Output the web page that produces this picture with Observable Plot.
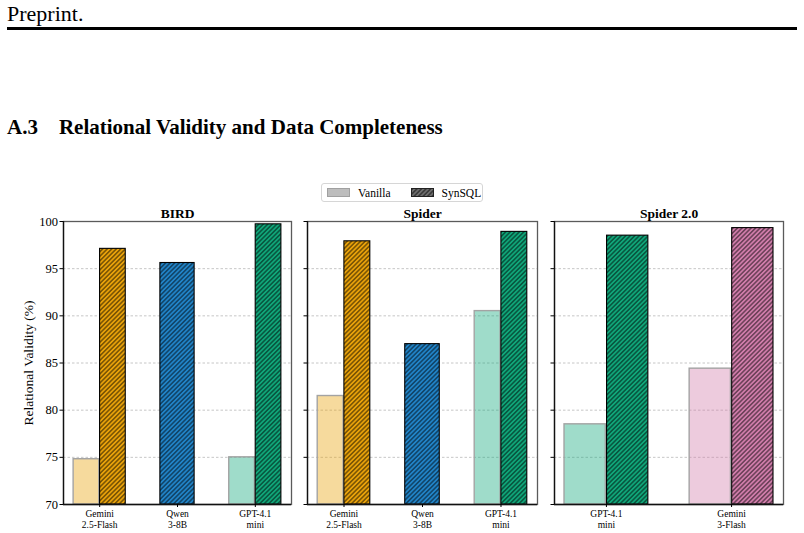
<!DOCTYPE html>
<html>
<head>
<meta charset="utf-8">
<script src="https://cdn.jsdelivr.net/npm/d3@7"></script>
<script src="https://cdn.jsdelivr.net/npm/@observablehq/plot@0.6"></script>
<style>
  body { margin: 0; background: #fff; width: 804px; height: 533px; position: relative; overflow: hidden;
         font-family: "Liberation Serif", "Times New Roman", serif; color: #000; }
  #running-head { position: absolute; left: 7px; top: 1px; font-size: 22px; }
  #rule { position: absolute; left: 7px; top: 27px; width: 790px; height: 3px; background: #000; }
  #section { position: absolute; left: 7px; top: 115px; font-size: 21px; font-weight: bold; white-space: pre; }
  #legend { position: absolute; left: 321px; top: 183px; width: 160px; height: 17px; border: 1px solid #d6d6d6;
            border-radius: 3px; font-size: 11.5px; display: flex; align-items: center; }
  #legend .item { display: flex; align-items: center; }
  #legend svg { display: block; margin-right: 8px; }
  .panel { position: absolute; top: 200px; }
</style>
</head>
<body>
<svg width="0" height="0" style="position:absolute"><defs id="patterns"></defs></svg>
<div id="running-head">Preprint.</div>
<div id="rule"></div>
<div id="section">A.3    Relational Validity and Data Completeness</div>
<div id="legend">
  <div class="item" style="margin-left:5px"><svg width="23" height="9"><rect x="0.5" y="0.5" width="22" height="8" fill="#bdbdbd" stroke="#a0a0a0"/></svg>Vanilla</div>
  <div class="item" style="margin-left:20px"><svg width="23" height="9"><rect x="0.5" y="0.5" width="22" height="8" fill="url(#hatch-legend)" stroke="#222"/></svg>SynSQL</div>
</div>
<div id="p1" class="panel" style="left:0px"></div>
<div id="p2" class="panel" style="left:300px"></div>
<div id="p3" class="panel" style="left:546px"></div>
<script>
// Benchmarks and models
const panelTitles = ["BIRD", "Spider", "Spider 2.0"];
const birdModels = ["Gemini\n2.5-Flash", "Qwen\n3-8B", "GPT-4.1\nmini"];
const birdVanilla = [74.8, null, 75.0];
const birdSynSQL = [97.1, 95.6, 99.7];
const spiderModels = ["Gemini\n2.5-Flash", "Qwen\n3-8B", "GPT-4.1\nmini"];
const spiderVanilla = [81.5, null, 90.5];
const spiderSynSQL = [97.9, 87.0, 98.9];
const spider2Models = ["GPT-4.1\nmini", "Gemini\n3-Flash"];
const spider2Vanilla = [78.5, 84.4];
const spider2SynSQL = [98.5, 99.3];
const yTicks = [70, 75, 80, 85, 90, 95, 100];
const yGrid = [75, 80, 85, 90, 95];

// Colour per model
const modelColors = {
  "Gemini\n2.5-Flash": "#E9A20A",
  "Qwen\n3-8B": "#2184C8",
  "GPT-4.1\nmini": "#10A77A",
  "Gemini\n3-Flash": "#D17DAB"
};

// Diagonal hatch patterns ("///") on each model colour
const defs = d3.select("#patterns");
const patternId = (c) => "hatch-" + c.replace("#", "");
function addHatch(id, color) {
  const s = 3.2;
  const p = defs.append("pattern")
    .attr("id", id)
    .attr("patternUnits", "userSpaceOnUse")
    .attr("width", s).attr("height", s)
    .attr("patternTransform", "rotate(45)");
  p.append("rect").attr("width", s).attr("height", s).attr("fill", color);
  p.append("line").attr("x1", s / 2).attr("y1", 0).attr("x2", s / 2).attr("y2", s)
    .attr("stroke", "#000").attr("stroke-width", 0.75);
}
Object.values(modelColors).forEach(c => addHatch(patternId(c), c));
addHatch("hatch-legend", "#6e6e6e");

function drawPanel(el, {title, models, vanilla, synsql, domain, width, marginLeft, showLabels}) {
  const vanillaBars = [];
  const synBars = [];
  models.forEach((m, i) => {
    const color = modelColors[m];
    if (vanilla[i] != null) {
      vanillaBars.push({x1: i - 0.335, x2: i - 0.005, value: vanilla[i], color});
      synBars.push({x1: i + 0.005, x2: i + 0.335, value: synsql[i], fill: `url(#${patternId(color)})`});
    } else {
      synBars.push({x1: i - 0.22, x2: i + 0.22, value: synsql[i], fill: `url(#${patternId(color)})`});
    }
  });

  const marks = [
    Plot.gridY(yGrid, {stroke: "#b8b8b8", strokeOpacity: 1, strokeWidth: 0.8, strokeDasharray: "2.5,2"}),
    Plot.rect(vanillaBars, {x1: "x1", x2: "x2", y1: () => 70, y2: "value",
      fill: "color", fillOpacity: 0.4, stroke: "#a3a3a3", strokeWidth: 1.4}),
    Plot.rect(synBars, {x1: "x1", x2: "x2", y1: () => 70, y2: "value",
      fill: "fill", stroke: "#000", strokeWidth: 1.1}),
    Plot.frame({stroke: "#5a5a5a", strokeWidth: 1.3}),
    Plot.ruleX([domain[0]], {stroke: "#111", strokeWidth: 1.3}),
    Plot.ruleY([70], {stroke: "#111", strokeWidth: 1.3}),
    Plot.axisX({ticks: models.map((_, i) => i), tickFormat: i => models[i], tickSize: 3,
      tickPadding: 2, fontSize: 9.5, lineHeight: 1.12, label: null}),
    showLabels
      ? Plot.axisY({ticks: yTicks, tickSize: 3.5, tickPadding: 2, fontSize: 12.5, label: null})
      : Plot.axisY({ticks: yTicks, tickSize: 3.5, tickFormat: () => "", label: null}),
    Plot.text([title], {frameAnchor: "top", textAnchor: "middle", lineAnchor: "bottom", dy: -4, fontWeight: "bold", fontSize: 13.5})
  ];
  if (showLabels) {
    marks.push(Plot.text(["Relational Validity (%)"], {frameAnchor: "left", textAnchor: "middle", lineAnchor: "middle",
      rotate: -90, dx: -35, fontSize: 13.5}));
  }

  const chart = Plot.plot({
    width,
    height: 333,
    marginTop: 21,
    marginBottom: 29,
    marginLeft,
    marginRight: 9,
    x: {type: "linear", domain},
    y: {domain: [70, 100]},
    color: {type: "identity"},
    style: {fontFamily: "Liberation Serif, Times New Roman, serif", fontSize: "12px", color: "#000", background: "transparent", overflow: "visible"},
    marks
  });
  el.appendChild(chart);
}

drawPanel(document.getElementById("p1"), {title: panelTitles[0], models: birdModels, vanilla: birdVanilla,
  synsql: birdSynSQL, domain: [-0.465, 2.465], width: 300, marginLeft: 63, showLabels: true});
drawPanel(document.getElementById("p2"), {title: panelTitles[1], models: spiderModels, vanilla: spiderVanilla,
  synsql: spiderSynSQL, domain: [-0.465, 2.465], width: 246, marginLeft: 7, showLabels: false});
drawPanel(document.getElementById("p3"), {title: panelTitles[2], models: spider2Models, vanilla: spider2Vanilla,
  synsql: spider2SynSQL, domain: [-0.415, 1.415], width: 246, marginLeft: 8, showLabels: false});
</script>
</body>
</html>
